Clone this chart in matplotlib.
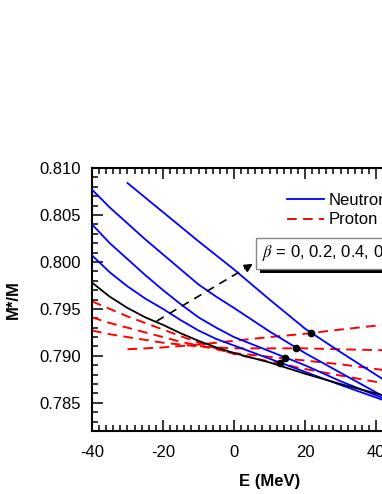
import matplotlib
matplotlib.use("Agg")
import matplotlib.pyplot as plt
import matplotlib.patheffects as pe
from matplotlib.ticker import MultipleLocator

plt.rcParams['font.family'] = ['Liberation Sans', 'DejaVu Sans']
plt.rcParams['mathtext.fontset'] = 'stix'
plt.rcParams['axes.unicode_minus'] = False
plt.rcParams['lines.scale_dashes'] = False

# energy grid (MeV)
e_grid = [-40, -35, -30, -25, -20, -15, -10, -5, 0, 10, 20, 30, 42]
e_grid_08 = [-30, -20, -10, 0, 10, 20, 30, 42]

# beta = 0 (neutron = proton)
m_sym = [0.7978, 0.7963, 0.7951, 0.7941, 0.7933, 0.7924, 0.7916, 0.7909, 0.7903,
         0.7893, 0.7881, 0.7870, 0.7858]

# neutron M*/M
n_02 = [0.8007, 0.7989, 0.7974, 0.7961, 0.7950, 0.7938, 0.7927, 0.7918, 0.7911,
        0.7897, 0.7883, 0.7869, 0.7853]
n_04 = [0.8040, 0.8020, 0.8003, 0.7986, 0.7970, 0.7955, 0.7941, 0.7930, 0.7920,
        0.7905, 0.7890, 0.7873, 0.7855]
n_06 = [0.8077, 0.8058, 0.8041, 0.8024, 0.8008, 0.7992, 0.7976, 0.7963, 0.7951,
        0.7926, 0.7903, 0.7882, 0.7857]
n_08 = [0.8084, 0.8053, 0.8022, 0.7992, 0.7960, 0.7929, 0.7904, 0.7875]

# proton M*/M
p_02 = [0.7958, 0.7950, 0.7942, 0.7935, 0.7928, 0.7921, 0.7914, 0.7908, 0.7902,
        0.7894, 0.7886, 0.7879, 0.7871]
p_04 = [0.7941, 0.7935, 0.7930, 0.7925, 0.7920, 0.7915, 0.7911, 0.7907, 0.7903,
        0.7899, 0.7895, 0.7891, 0.7885]
p_06 = [0.7927, 0.7923, 0.7920, 0.7917, 0.7914, 0.7912, 0.7910, 0.7909, 0.7908,
        0.7908, 0.7908, 0.7907, 0.7906]
p_08 = [0.7907, 0.7909, 0.7912, 0.7916, 0.7920, 0.79235, 0.7928, 0.7933]

# crossing points neutron/proton
cross_e = [13.0, 14.4, 17.5, 21.6]
cross_m = [0.7892, 0.7898, 0.7908, 0.7924]

beta_text = r'$\beta$ = 0, 0.2, 0.4, 0.6, 0.8'
arrow_from = (-21.8, 0.7937)
arrow_to = (5.3, 0.7998)

fig = plt.figure(figsize=(3.82, 4.94), dpi=100)
ax = fig.add_axes([92/382, 63/494, 355/382, 263/494])

dash = (7, 4.5)
neutron = [(e_grid, n_02), (e_grid, n_04), (e_grid, n_06), (e_grid_08, n_08)]
proton = [(e_grid, p_02), (e_grid, p_04), (e_grid, p_06), (e_grid_08, p_08)]

red_lines = []
blue_lines = []
for e, m in proton:
    red_lines += ax.plot(e, m, color='red', lw=1.4, dashes=dash, zorder=2)
for e, m in neutron:
    blue_lines += ax.plot(e, m, color='blue', lw=1.3, zorder=3)
ax.plot(e_grid, m_sym, color='black', lw=1.3, zorder=3)
ax.plot(cross_e, cross_m, 'o', color='black', ms=4.5, zorder=5)

# dashed arrow to the beta box
ax.plot([arrow_from[0], arrow_to[0] - 1.0], [arrow_from[1], arrow_to[1] - 0.00024],
        color='black', lw=1.2, dashes=(6, 4.5), zorder=4)
ax.annotate('', xy=arrow_to, xytext=(arrow_to[0] - 1.6, arrow_to[1] - 0.00038),
            arrowprops=dict(arrowstyle='-|>', color='black', lw=1.2,
                            mutation_scale=12, shrinkA=0, shrinkB=0))

t = ax.text(7.8, 0.79985, beta_text, fontsize=12, ha='left', va='bottom',
            bbox=dict(boxstyle='square,pad=0.35', fc='white', ec='#888888', lw=1.0),
            zorder=6)
t.get_bbox_patch().set_path_effects([
    pe.SimplePatchShadow(offset=(3, -3), shadow_rgbFace='black', alpha=1.0),
    pe.Normal()])

ax.set_xlim(-40, 60)
ax.set_ylim(0.782, 0.810)
ax.xaxis.set_major_locator(MultipleLocator(20))
ax.xaxis.set_minor_locator(MultipleLocator(2))
ax.yaxis.set_major_locator(MultipleLocator(0.005))
ax.yaxis.set_minor_locator(MultipleLocator(0.001))
ax.yaxis.set_major_formatter(plt.FormatStrFormatter('%.3f'))
ax.tick_params(which='both', direction='in', top=True, right=True, width=1.1)
ax.tick_params(which='major', length=8, labelsize=12)
ax.tick_params(which='minor', length=4)
ax.tick_params(axis='y', which='major', pad=8)
ax.tick_params(axis='x', which='major', pad=10)
for s in ax.spines.values():
    s.set_linewidth(1.5)

ax.set_xlabel('E (MeV)', fontsize=12, fontweight='bold', labelpad=10)
ax.set_ylabel('M*/M', fontsize=12, fontweight='bold', labelpad=13)

ax.legend([blue_lines[0], red_lines[0]], ['Neutron', 'Proton'],
          loc='upper left', bbox_to_anchor=(0.549, 0.905), frameon=False,
          fontsize=12, handlelength=2.2, handletextpad=0.3, labelspacing=0.27,
          borderpad=0, borderaxespad=0)

fig.savefig('out.png', dpi=100)
